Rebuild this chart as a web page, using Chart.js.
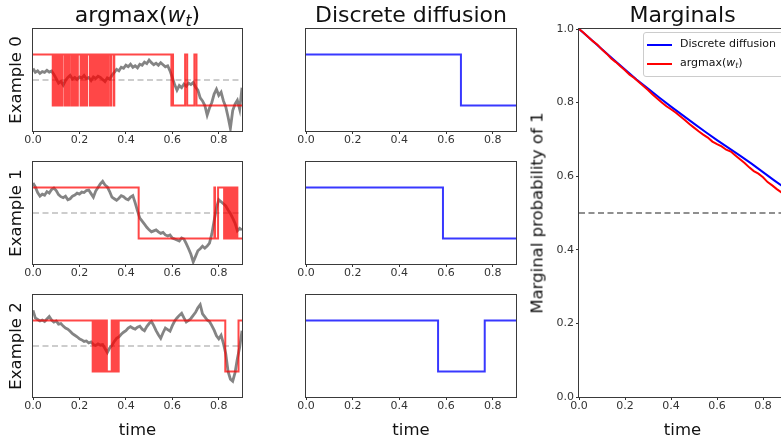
<!DOCTYPE html>
<html><head><meta charset="utf-8">
<script src="https://cdn.jsdelivr.net/npm/chart.js@4.4.1/dist/chart.umd.min.js"></script>
<style>
html,body{margin:0;padding:0;width:781px;height:439px;overflow:hidden;background:#fff;}
body{position:relative;}
canvas{position:absolute;left:0;top:0;}
.t{position:absolute;font-family:'DejaVu Sans',sans-serif;color:#111;white-space:nowrap;line-height:normal;}
.title{font-size:22px;top:2.3px;transform:translateX(-50%);}
.ylab{font-size:16.5px;transform:translate(-50%,-50%) rotate(-90deg);}
.xlab{font-size:16.5px;top:419.7px;transform:translateX(-50%);}
.sub{font-size:70%;font-style:italic;position:relative;top:0.25em;line-height:0;}
#legend{position:absolute;left:643px;top:32px;width:146px;height:43px;border:1px solid #cccccc;border-radius:3px;background:rgba(255,255,255,0.8);font-family:'DejaVu Sans',sans-serif;font-size:11px;color:#111;}
.li{position:absolute;left:0;height:19px;width:146px;}
.sw{position:absolute;left:3px;top:8px;width:25px;height:2px;}
.lt{position:absolute;left:36px;top:1px;white-space:nowrap;line-height:normal;}
</style></head><body>
<canvas id="c0" width="781" height="439"></canvas>
<canvas id="c1" width="781" height="439"></canvas>
<canvas id="c2" width="781" height="439"></canvas>
<canvas id="c3" width="781" height="439"></canvas>
<canvas id="c4" width="781" height="439"></canvas>
<canvas id="c5" width="781" height="439"></canvas>
<canvas id="c6" width="800" height="439"></canvas>

<div class="t title" style="left:137.5px">argmax(<i>w</i><span class="sub">t</span>)</div>
<div class="t title" style="left:411px">Discrete diffusion</div>
<div class="t title" style="left:682.5px">Marginals</div>
<div class="t ylab" style="left:15px;top:80px">Example 0</div>
<div class="t ylab" style="left:15px;top:213px">Example 1</div>
<div class="t ylab" style="left:15px;top:346px">Example 2</div>
<div class="t ylab" style="left:537px;top:213px">Marginal probability of 1</div>
<div class="t xlab" style="left:137.5px">time</div>
<div class="t xlab" style="left:411px">time</div>
<div class="t xlab" style="left:682.5px">time</div>
<div id="legend">
  <div class="li" style="top:3px"><div class="sw" style="background:#0000ff"></div><div class="lt">Discrete diffusion</div></div>
  <div class="li" style="top:22px"><div class="sw" style="background:#ff0000"></div><div class="lt">argmax(<i>w</i><span class="sub">t</span>)</div></div>
</div>

<script>
// ---------- DATA ----------
const walkTimes = [0.00,0.01,0.02,0.03,0.04,0.05,0.06,0.07,0.08,0.09,0.10,0.11,0.12,0.13,0.14,0.15,0.16,0.17,0.18,0.19,
0.20,0.21,0.22,0.23,0.24,0.25,0.26,0.27,0.28,0.29,0.30,0.31,0.32,0.33,0.34,0.35,0.36,0.37,0.38,0.39,
0.40,0.41,0.42,0.43,0.44,0.45,0.46,0.47,0.48,0.49,0.50,0.51,0.52,0.53,0.54,0.55,0.56,0.57,0.58,0.59,
0.60,0.61,0.62,0.63,0.64,0.65,0.66,0.67,0.68,0.69,0.70,0.71,0.72,0.73,0.74,0.75,0.76,0.77,0.78,0.79,
0.80,0.81,0.82,0.83,0.84,0.85,0.86,0.87,0.88,0.89,0.90];

const walk0 = [0.45,0.30,0.36,0.26,0.33,0.30,0.38,0.31,0.35,0.22,0.05,-0.12,-0.05,-0.20,-0.02,0.10,0.18,0.04,0.10,0.02,
0.12,0.08,0.18,0.05,0.10,-0.02,0.12,0.06,0.15,0.10,0.02,-0.06,0.08,0.03,0.18,0.30,0.42,0.36,0.50,0.46,
0.58,0.52,0.62,0.50,0.56,0.48,0.62,0.58,0.70,0.64,0.78,0.68,0.60,0.66,0.58,0.68,0.60,0.52,0.56,0.36,
0.10,-0.18,-0.40,-0.22,-0.30,-0.16,-0.24,-0.12,-0.18,-0.10,-0.28,-0.40,-0.70,-0.82,-1.00,-1.38,-1.10,-0.88,-0.55,-0.36,
-0.60,-0.48,-0.82,-1.05,-1.45,-1.90,-1.20,-0.95,-0.80,-1.15,-0.30];

const walk1 = [1.18,1.02,0.80,0.66,0.74,0.70,0.84,0.78,0.92,0.98,0.88,0.72,0.64,0.60,0.66,0.52,0.56,0.66,0.70,0.78,
0.74,0.82,0.80,0.88,0.90,0.76,0.62,0.86,1.00,1.14,1.24,1.10,1.02,0.84,0.62,0.56,0.50,0.58,0.68,0.64,
0.56,0.52,0.62,0.68,0.40,0.08,-0.20,-0.32,-0.44,-0.56,-0.66,-0.74,-0.70,-0.66,-0.74,-0.80,-0.76,-0.86,-0.90,-0.86,
-0.98,-1.02,-1.06,-1.10,-0.98,-1.02,-1.20,-1.40,-1.62,-1.92,-1.70,-1.48,-1.40,-1.30,-1.38,-1.30,-1.18,-0.82,-0.30,0.20,
0.52,0.44,0.36,0.28,0.12,-0.02,-0.20,-0.40,-0.70,-0.60,-0.66];

const walk2 = [1.40,1.10,1.04,0.98,1.02,0.96,1.06,1.16,1.02,0.94,0.98,0.86,0.88,0.78,0.70,0.66,0.58,0.48,0.42,0.36,
0.28,0.24,0.18,0.20,0.12,0.16,0.06,0.02,0.08,0.04,0.06,-0.10,-0.26,-0.08,0.02,0.18,0.30,0.36,0.46,0.54,
0.60,0.70,0.76,0.70,0.66,0.74,0.78,0.66,0.60,0.76,0.88,0.96,0.80,0.60,0.44,0.30,0.52,0.70,0.64,0.58,
0.80,0.98,1.10,1.20,1.28,1.10,0.94,1.00,1.08,1.20,1.32,1.50,1.62,1.26,1.14,1.02,0.96,0.80,0.62,0.40,
0.28,0.42,0.10,-0.30,-1.00,-1.30,-1.38,-1.05,-0.50,-0.05,0.60];

// argmax(w_t): switching times and states
const red0T = [0,0.085,0.088,0.091,0.094,0.097,0.100,0.103,0.106,0.109,0.112,0.115,0.118,0.121,0.125,
0.135,0.138,0.141,0.144,0.147,0.150,0.153,0.156,0.165,0.167,0.172,0.175,0.178,0.181,0.184,0.187,0.190,0.193,
0.205,0.208,0.211,0.214,0.217,0.220,0.223,0.226,0.229,0.233,
0.245,0.248,0.251,0.254,0.257,0.260,0.263,0.266,0.269,0.272,0.275,0.278,0.281,0.284,0.287,0.290,0.293,0.296,0.299,0.302,
0.310,0.313,0.320,0.324,0.333,0.336,0.347,0.350,0.596,0.600,0.603,0.655,0.664,0.695,0.704,0.900];
const red0V = [1,-1,1,-1,1,-1,1,-1,1,-1,1,-1,1,-1,1,
-1,1,-1,1,-1,1,-1,1,-1,1,-1,1,-1,1,-1,1,-1,1,
-1,1,-1,1,-1,1,-1,1,-1,1,
-1,1,-1,1,-1,1,-1,1,-1,1,-1,1,-1,1,-1,1,-1,1,-1,1,
-1,1,-1,1,-1,1,-1,1,-1,1,-1,1,-1,1,-1,-1];

const red1T = [0,0.455,0.781,0.784,0.797,0.823,0.826,0.829,0.832,0.835,0.838,0.845,0.848,0.851,0.854,
0.862,0.865,0.868,0.871,0.874,0.877,0.880,0.900];
const red1V = [1,-1,1,-1,1,-1,1,-1,1,-1,1,-1,1,-1,1,-1,1,-1,1,-1,1,-1,-1];

const red2T = [0,0.257,0.260,0.263,0.266,0.269,0.272,0.275,0.278,0.281,0.284,0.287,0.290,0.293,0.296,0.299,0.302,
0.309,0.311,0.318,0.339,0.342,0.345,0.348,0.351,0.354,0.357,0.360,0.363,0.366,0.369,0.828,0.885,0.900];
const red2V = [1,-1,1,-1,1,-1,1,-1,1,-1,1,-1,1,-1,1,-1,1,-1,1,-1,1,-1,1,-1,1,-1,1,-1,1,-1,1,-1,1,1];

// Discrete diffusion paths
const blue0T = [0,0.664,0.900], blue0V = [1,-1,-1];
const blue1T = [0,0.587,0.900], blue1V = [1,-1,-1];
const blue2T = [0,0.566,0.766,0.900], blue2V = [1,-1,1,1];

// Threshold lines
const lineT = [0,0.9];
const zeroLevel = [0,0];
const halfLevel = [0.5,0.5];

// Marginals
const margBlueT = [0,0.05,0.10,0.15,0.20,0.25,0.30,0.35,0.40,0.45,0.50,0.55,0.60,0.65,0.70,0.75,0.80,0.85,0.90];
const margBlueV = [1.0,0.973,0.945,0.917,0.890,0.863,0.838,0.813,0.789,0.766,0.743,0.720,0.698,0.677,0.656,0.634,0.611,0.588,0.566];
const margRedT = [0,0.02,0.04,0.06,0.08,0.10,0.12,0.14,0.16,0.18,0.20,0.22,0.24,0.26,0.28,0.30,0.32,0.34,0.36,0.38,
0.40,0.42,0.44,0.46,0.48,0.50,0.52,0.54,0.56,0.58,0.60,0.62,0.64,0.66,0.68,0.70,0.72,0.74,0.76,0.78,0.80,0.82,0.84,0.86,0.88,0.90];
const margRedV = [1.0,0.990,0.978,0.967,0.957,0.944,0.933,0.920,0.910,0.899,0.888,0.876,0.867,0.856,0.845,0.834,0.822,0.811,0.800,0.790,
0.782,0.773,0.763,0.753,0.742,0.732,0.722,0.713,0.705,0.694,0.687,0.681,0.672,0.667,0.656,0.646,0.636,0.624,0.614,0.607,
0.597,0.584,0.575,0.565,0.556,0.547];

const xTickStep = 0.2;

// ---------- RENDERING ----------
const FONT = {family: "'DejaVu Sans', sans-serif", size: 11};
const INK = '#333333';
const XH = 20;

const frame = {
  id: 'frame',
  afterDraw(chart) {
    const a = chart.chartArea, ctx = chart.ctx;
    ctx.save();
    ctx.strokeStyle = '#3a3a3a'; ctx.lineWidth = 1;
    const l = Math.round(a.left) - 0.5, t = Math.round(a.top) - 0.5;
    ctx.strokeRect(l, t, Math.round(a.right) - Math.round(a.left) + 1, Math.round(a.bottom) - Math.round(a.top) + 1);
    ctx.restore();
  }
};

function ds(ts, vs, color, width, extra) {
  return Object.assign({
    data: ts.map((t, i) => ({x: t, y: vs[i]})),
    borderColor: color, borderWidth: width, pointRadius: 0, fill: false, tension: 0
  }, extra || {});
}

function xScale() {
  return {
    type: 'linear', min: 0, max: 0.9,
    afterFit(s) { s.height = XH; },
    ticks: {stepSize: xTickStep, includeBounds: false, autoSkip: false, maxRotation: 0, minRotation: 0,
      color: INK, font: FONT, padding: 0, callback: v => Number(v).toFixed(1)},
    grid: {display: true, drawOnChartArea: false, drawTicks: true, tickLength: 3, color: INK},
    border: {display: false}
  };
}

function make(id, area, datasets, yScale) {
  const c = document.getElementById(id);
  new Chart(c, {
    type: 'line',
    data: {datasets},
    options: {
      responsive: false, animation: false, devicePixelRatio: 1, events: [],
      layout: {padding: {left: area.left - area.yW, right: c.width - area.right, top: area.top, bottom: c.height - area.bottom - XH}},
      plugins: {legend: {display: false}, tooltip: {enabled: false}},
      scales: {x: xScale(), y: yScale}
    },
    plugins: [frame]
  });
}

function hiddenY() {
  return {type: 'linear', min: -2, max: 2, afterFit(s) { s.width = 12; },
    ticks: {display: false}, grid: {display: false}, border: {display: false}};
}

const rows = [[29, 131], [162, 264], [295, 397]];
const walks = [walk0, walk1, walk2];
const reds = [[red0T, red0V], [red1T, red1V], [red2T, red2V]];
const blues = [[blue0T, blue0V], [blue1T, blue1V], [blue2T, blue2V]];

for (let r = 0; r < 3; r++) {
  make('c' + r, {left: 33, right: 242, top: rows[r][0], bottom: rows[r][1], yW: 12}, [
    ds(reds[r][0], reds[r][1], 'rgba(255,0,0,0.72)', 2, {stepped: true, order: 0}),
    ds(walkTimes, walks[r], 'rgba(110,110,110,0.85)', 2.8, {order: 1}),
    ds(lineT, zeroLevel, '#bdbdbd', 1.5, {borderDash: [6, 3.5], order: 2})
  ], hiddenY());
  make('c' + (r + 3), {left: 306, right: 516, top: rows[r][0], bottom: rows[r][1], yW: 12}, [
    ds(blues[r][0], blues[r][1], 'rgba(0,0,255,0.78)', 2, {stepped: true})
  ], hiddenY());
}

make('c6', {left: 579, right: 786, top: 29, bottom: 397, yW: 30}, [
  ds(margRedT, margRedV, '#ff0000', 2, {order: 0}),
  ds(margBlueT, margBlueV, '#0000ff', 2, {order: 1}),
  ds(lineT, halfLevel, 'rgba(90,90,90,0.9)', 1.5, {borderDash: [6, 3.5], order: 2})
], {
  type: 'linear', min: 0, max: 1,
  afterFit(s) { s.width = 30; },
  ticks: {stepSize: 0.2, includeBounds: false, color: INK, font: FONT, padding: 2, callback: v => Number(v).toFixed(1)},
  grid: {display: true, drawOnChartArea: false, drawTicks: true, tickLength: 3, color: INK},
  border: {display: false}
});
</script>
</body></html>
